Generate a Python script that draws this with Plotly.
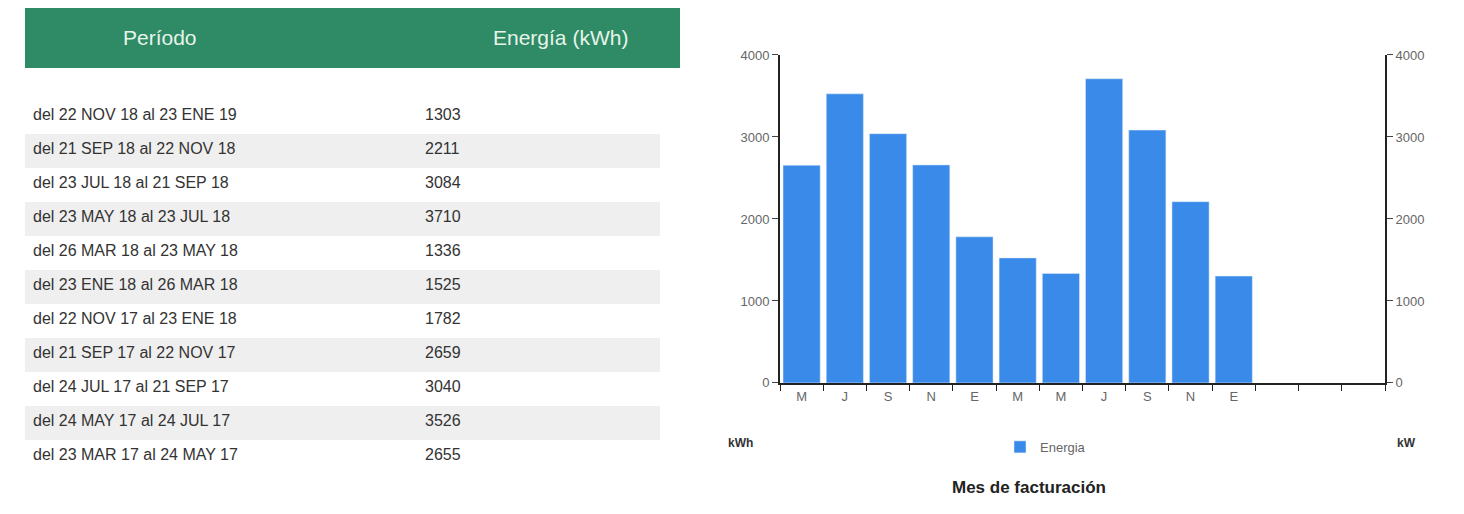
import plotly.graph_objects as go

periodos = ["del 22 NOV 18 al 23 ENE 19", "del 21 SEP 18 al 22 NOV 18", "del 23 JUL 18 al 21 SEP 18",
            "del 23 MAY 18 al 23 JUL 18", "del 26 MAR 18 al 23 MAY 18", "del 23 ENE 18 al 26 MAR 18",
            "del 22 NOV 17 al 23 ENE 18", "del 21 SEP 17 al 22 NOV 17", "del 24 JUL 17 al 21 SEP 17",
            "del 24 MAY 17 al 24 JUL 17", "del 23 MAR 17 al 24 MAY 17"]
energia = [1303, 2211, 3084, 3710, 1336, 1525, 1782, 2659, 3040, 3526, 2655]

meses = ["M", "J", "S", "N", "E", "M", "M", "J", "S", "N", "E"]
energia_mes = energia[::-1]
n_slots = 14

W, H = 1464, 514
# the page puts the figure a little off, so map target pixels back
def px(x): return (x - 8) / W
def py(y): return 1 - ((y - 15) / 0.971) / H

fig = go.Figure()

stripes = ["white" if i % 2 == 0 else "#efefef" for i in range(len(periodos))]
fig.add_trace(go.Table(
    domain=dict(x=[px(25), px(660)], y=[py(514), py(90)]),
    columnwidth=[392, 243],
    header=dict(values=["", ""], height=10, fill_color="white", line_color="white"),
    cells=dict(values=[periodos, energia], height=34, align="left",
               fill_color=[stripes, stripes], line_color="rgba(0,0,0,0)",
               font=dict(family="Liberation Sans, Arial", size=16, color="#333333"))))

fig.add_shape(type="rect", xref="paper", yref="paper", x0=px(25), x1=px(680), y0=py(68), y1=py(2),
              fillcolor="#2f8a66", line_width=0, layer="below")
for t, x in [("Período", 160), ("Energía (kWh)", 560)]:
    fig.add_annotation(x=px(x), y=py(38), xref="paper", yref="paper", text=t, showarrow=False,
                       yanchor="middle", xanchor="center",
                       font=dict(family="Liberation Sans Narrow, Arial Narrow, sans-serif", size=21, color="#e6f5e9"))

fig.add_trace(go.Bar(x=list(range(len(meses))), y=energia_mes, name="Energia",
                     marker_color="#3a8aea", width=0.86))
fig.add_trace(go.Scatter(x=[0], y=[0], yaxis="y2", mode="markers", marker_opacity=0,
                         showlegend=False, hoverinfo="skip"))

tickfont = dict(family="Liberation Sans, Arial", size=13, color="#666666")
fig.update_layout(
    width=W, height=H, margin=dict(l=0, r=0, t=0, b=0),
    paper_bgcolor="white", plot_bgcolor="white",
    xaxis=dict(domain=[px(780), px(1385)], range=[-0.5, n_slots - 0.5],
               tickvals=list(range(len(meses))), ticktext=meses, ticks="", tickfont=tickfont,
               showline=True, linecolor="#222", linewidth=2, showgrid=False, zeroline=False,
               minor=dict(tick0=-0.5, dtick=1, ticks="outside", ticklen=6, tickcolor="#222", showgrid=False)),
    yaxis=dict(domain=[py(383), py(55)], range=[0, 4000], dtick=1000, ticks="outside", ticklen=6,
               showline=True, linecolor="#222", linewidth=2, showgrid=False, zeroline=False, tickfont=tickfont),
    yaxis2=dict(overlaying="y", side="right", anchor="x", range=[0, 4000], dtick=1000, ticks="outside",
                ticklen=6, showline=True, linecolor="#222", linewidth=2, showgrid=False, zeroline=False,
                tickfont=tickfont),
    legend=dict(x=px(1000), y=py(447), yanchor="middle", xanchor="left", orientation="h",
                font=dict(family="Liberation Sans, Arial", size=13, color="#666")),
    showlegend=True,
)

for t, x in [("kWh", 740), ("kW", 1418)]:
    fig.add_annotation(x=px(x), y=py(443), xref="paper", yref="paper", text="<b>" + t + "</b>",
                       showarrow=False, yanchor="middle",
                       font=dict(family="Liberation Sans, Arial", size=12, color="#333"))
fig.add_annotation(x=px(1108), y=py(488), xref="paper", yref="paper", text="<b>Mes de facturación</b>",
                   showarrow=False, yanchor="middle",
                   font=dict(family="Liberation Sans Narrow, Arial Narrow, sans-serif", size=17, color="#222"))

fig.write_html("out.html")
